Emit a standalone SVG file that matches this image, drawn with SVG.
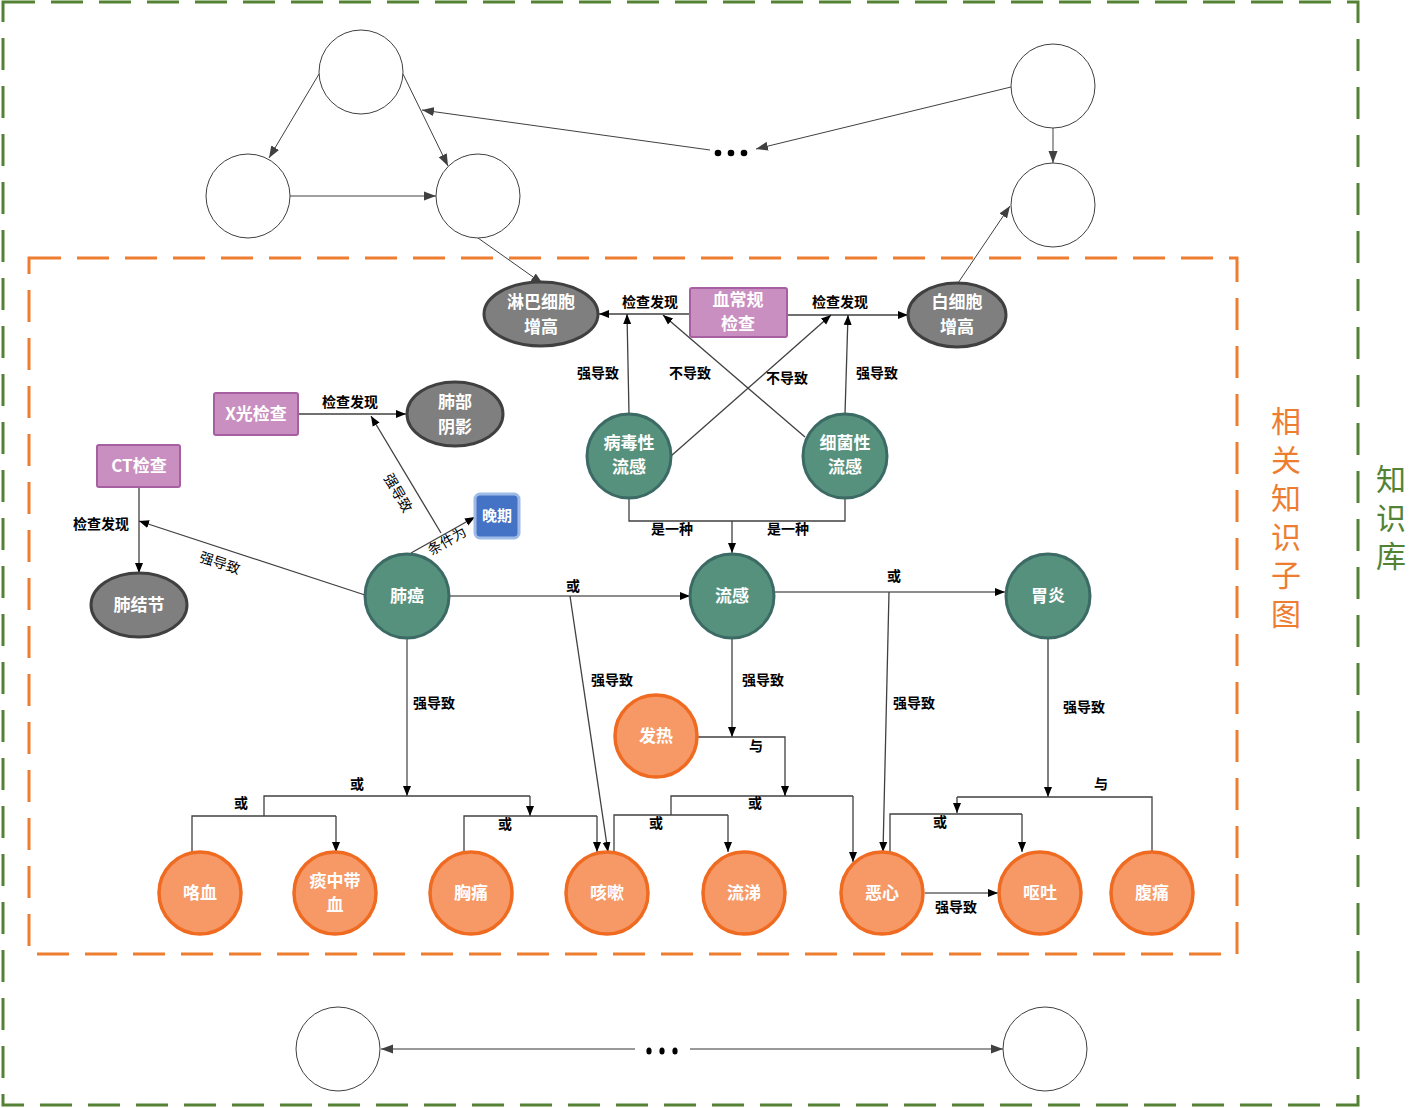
<svg xmlns="http://www.w3.org/2000/svg" width="1424" height="1108" viewBox="0 0 1424 1108">
<defs>
<style>
.ab{fill:#fff;stroke:#404040;stroke-width:1}
.al{fill:none;stroke:#404040;stroke-width:1}
.c{fill:none;stroke:#404040;stroke-width:1.3}
.gray{fill:#7f7f7f;stroke:#404040;stroke-width:3}
.teal{fill:#56917d;stroke:#3c6a64;stroke-width:3}
.or{fill:#f69966;stroke:#f06b22;stroke-width:3.5}
.pk{fill:#c98fc0;stroke:#a65fa0;stroke-width:2}
.nt{font-family:"Noto Sans CJK SC","Liberation Sans",sans-serif;font-weight:bold;font-size:17px;fill:#fff;text-anchor:middle}
.el{font-family:"Noto Sans CJK SC","Liberation Sans",sans-serif;font-weight:bold;font-size:14px;fill:#000;text-anchor:middle}
.side{font-family:"Noto Sans CJK SC",sans-serif;font-size:30px;writing-mode:vertical-rl;letter-spacing:8.5px}
</style>
<marker id="ar" markerWidth="10" markerHeight="10" refX="10" refY="5" orient="auto" markerUnits="userSpaceOnUse"><path d="M0,1 L10,5 L0,9 Z" fill="#000"/></marker>
<marker id="ag" markerWidth="12" markerHeight="10" refX="12" refY="5" orient="auto" markerUnits="userSpaceOnUse"><path d="M0,0.5 L12,5 L0,9.5 Z" fill="#404040"/></marker>
</defs>
<rect width="1424" height="1108" fill="#fff"/>

<g id="borders">
<rect x="3" y="2" width="1355" height="1103" fill="none" stroke="#548235" stroke-width="3" stroke-dasharray="32,16"/>
<rect x="29" y="258" width="1208" height="696" fill="none" stroke="#ed7d31" stroke-width="3" stroke-dasharray="32,16"/>
</g>

<g id="connectors">
<line class="al" x1="319" y1="74" x2="269" y2="158" marker-end="url(#ag)"/>
<line class="al" x1="403" y1="74" x2="448" y2="166" marker-end="url(#ag)"/>
<line class="al" x1="290" y1="196" x2="436" y2="196" marker-end="url(#ag)"/>
<line class="al" x1="710" y1="150" x2="422" y2="110" marker-end="url(#ag)"/>
<line class="al" x1="1011" y1="87" x2="756" y2="149" marker-end="url(#ag)"/>
<line class="al" x1="1053" y1="128" x2="1053" y2="163" marker-end="url(#ag)"/>
<line class="al" x1="958" y1="283" x2="1010" y2="206" marker-end="url(#ag)"/>
<line class="al" x1="478" y1="238" x2="543" y2="284" marker-end="url(#ag)"/>
<line x1="635" y1="1049" x2="381" y2="1049" stroke="#999" stroke-width="2" marker-end="url(#ag)"/>
<line x1="690" y1="1049" x2="1003" y2="1049" stroke="#999" stroke-width="2" marker-end="url(#ag)"/>

<line class="c" x1="690" y1="314" x2="599" y2="314" marker-end="url(#ar)"/>
<line class="c" x1="787" y1="315" x2="908" y2="315" marker-end="url(#ar)"/>
<line class="c" x1="629" y1="414" x2="627" y2="314" marker-end="url(#ar)"/>
<line class="c" x1="845" y1="414" x2="848" y2="315" marker-end="url(#ar)"/>
<line class="c" x1="671" y1="456" x2="831" y2="315" marker-end="url(#ar)"/>
<line class="c" x1="805" y1="437" x2="663" y2="315" marker-end="url(#ar)"/>
<polyline class="c" points="629,498 629,521 845,521 845,498"/>
<line class="c" x1="732" y1="521" x2="732" y2="553" marker-end="url(#ar)"/>

<line class="c" x1="298" y1="414" x2="406" y2="414" marker-end="url(#ar)"/>
<line class="c" x1="139" y1="487" x2="139" y2="573" marker-end="url(#ar)"/>
<line class="c" x1="365" y1="595" x2="139" y2="521" marker-end="url(#ar)"/>
<line class="c" x1="441" y1="533" x2="371" y2="416" marker-end="url(#ar)"/>
<line class="c" x1="411" y1="553" x2="475" y2="517" marker-end="url(#ar)"/>
<line x1="449" y1="596" x2="690" y2="596" stroke="#666" stroke-width="1.5" marker-end="url(#ar)"/>
<line class="c" x1="570" y1="596" x2="608" y2="852" marker-end="url(#ar)"/>
<line x1="774" y1="592" x2="1005" y2="592" stroke="#666" stroke-width="1.5" marker-end="url(#ar)"/>
<line class="c" x1="889" y1="592" x2="883" y2="852" marker-end="url(#ar)"/>

<line x1="407" y1="638" x2="407" y2="796" stroke="#666" stroke-width="1.5" marker-end="url(#ar)"/>
<polyline class="c" points="264,816 264,796 530,796"/>
<line class="c" x1="530" y1="796" x2="530" y2="816" marker-end="url(#ar)"/>
<polyline class="c" points="192,852 192,816 336,816"/>
<line class="c" x1="336" y1="816" x2="336" y2="852" marker-end="url(#ar)"/>
<polyline class="c" points="464,852 464,816 597,816"/>
<line class="c" x1="597" y1="816" x2="597" y2="852" marker-end="url(#ar)"/>

<line class="c" x1="732" y1="638" x2="732" y2="737" marker-end="url(#ar)"/>
<polyline class="c" points="698,737 785,737 785,796"/>
<line class="c" x1="785" y1="786" x2="785" y2="796" marker-end="url(#ar)"/>
<polyline class="c" points="671,815 671,796 853,796"/>
<line class="c" x1="853" y1="796" x2="853" y2="862" marker-end="url(#ar)"/>
<polyline class="c" points="614,853 614,815 728,815"/>
<line class="c" x1="728" y1="815" x2="728" y2="852" marker-end="url(#ar)"/>

<line x1="1048" y1="638" x2="1048" y2="797" stroke="#555" stroke-width="1.5" marker-end="url(#ar)"/>
<polyline class="c" points="1152,852 1152,797 957,797"/>
<line class="c" x1="957" y1="797" x2="957" y2="813" marker-end="url(#ar)"/>
<polyline class="c" points="890,853 890,814 1022,814"/>
<line class="c" x1="1022" y1="814" x2="1022" y2="852" marker-end="url(#ar)"/>
<line x1="925" y1="893" x2="998" y2="893" stroke="#666" stroke-width="1.5" marker-end="url(#ar)"/>
</g>

<g id="edge-labels">
<text class="el" x="650" y="307">检查发现</text>
<text class="el" x="840" y="307">检查发现</text>
<text class="el" x="598" y="378">强导致</text>
<text class="el" x="690" y="378">不导致</text>
<text class="el" x="787" y="383">不导致</text>
<text class="el" x="877" y="378">强导致</text>
<text class="el" x="672" y="534">是一种</text>
<text class="el" x="788" y="534">是一种</text>
<text class="el" x="350" y="407">检查发现</text>
<text class="el" x="101" y="529">检查发现</text>
<text class="el" x="220" y="568" transform="rotate(18 220 563)" style="font-weight:normal">强导致</text>
<text class="el" x="398" y="498" transform="rotate(60 398 493)" style="font-weight:normal">强导致</text>
<text class="el" x="447" y="546" transform="rotate(-30 447 541)" style="font-weight:normal">条件为</text>
<text class="el" x="573" y="591">或</text>
<text class="el" x="612" y="685">强导致</text>
<text class="el" x="894" y="581">或</text>
<text class="el" x="914" y="708">强导致</text>
<text class="el" x="434" y="708">强导致</text>
<text class="el" x="357" y="789">或</text>
<text class="el" x="241" y="808">或</text>
<text class="el" x="505" y="829">或</text>
<text class="el" x="763" y="685">强导致</text>
<text class="el" x="756" y="751">与</text>
<text class="el" x="755" y="808">或</text>
<text class="el" x="656" y="828">或</text>
<text class="el" x="1084" y="712">强导致</text>
<text class="el" x="1101" y="789">与</text>
<text class="el" x="940" y="827">或</text>
<text class="el" x="956" y="912">强导致</text>
</g>

<g id="abstract-nodes">
<circle id="a1" class="ab" cx="361" cy="72" r="42"/>
<circle id="a2" class="ab" cx="248" cy="196" r="42"/>
<circle id="a3" class="ab" cx="478" cy="196" r="42"/>
<circle id="a4" class="ab" cx="1053" cy="86" r="42"/>
<circle id="a5" class="ab" cx="1053" cy="205" r="42"/>
<ellipse id="a6" class="ab" cx="338" cy="1049" rx="42" ry="42"/>
<ellipse id="a7" class="ab" cx="1045" cy="1049" rx="42" ry="42"/>
<g id="dots1" fill="#000"><circle cx="718" cy="153" r="3.3"/><circle cx="731" cy="153" r="3.3"/><circle cx="744" cy="153" r="3.3"/></g>
<g id="dots2" fill="#000"><ellipse cx="649" cy="1051" rx="2.6" ry="3.5"/><ellipse cx="662" cy="1051" rx="2.6" ry="3.5"/><ellipse cx="675" cy="1051" rx="2.6" ry="3.5"/></g>
</g>

<g id="n-lymph"><ellipse class="gray" cx="541" cy="314" rx="57" ry="32"/><text class="nt" x="541" y="308">淋巴细胞</text><text class="nt" x="541" y="333">增高</text></g>
<g id="n-blood"><rect class="pk" x="690" y="288" width="97" height="49" rx="2"/><text class="nt" x="738" y="306">血常规</text><text class="nt" x="738" y="330">检查</text></g>
<g id="n-wbc"><ellipse class="gray" cx="957" cy="315" rx="49" ry="32"/><text class="nt" x="957" y="308">白细胞</text><text class="nt" x="957" y="333">增高</text></g>
<g id="n-viral"><circle class="teal" cx="629" cy="456" r="42"/><text class="nt" x="629" y="449">病毒性</text><text class="nt" x="629" y="473">流感</text></g>
<g id="n-bact"><circle class="teal" cx="845" cy="456" r="42"/><text class="nt" x="845" y="449">细菌性</text><text class="nt" x="845" y="473">流感</text></g>
<g id="n-xray"><rect class="pk" x="214" y="393" width="84" height="42" rx="2"/><text class="nt" x="256" y="420">X光检查</text></g>
<g id="n-shadow"><ellipse class="gray" cx="455" cy="414" rx="48" ry="32"/><text class="nt" x="455" y="408">肺部</text><text class="nt" x="455" y="433">阴影</text></g>
<g id="n-ct"><rect class="pk" x="97" y="445" width="83" height="42" rx="2"/><text class="nt" x="139" y="472">CT检查</text></g>
<g id="n-nodule"><ellipse class="gray" cx="139" cy="605" rx="48" ry="32"/><text class="nt" x="139" y="611">肺结节</text></g>
<g id="n-late"><rect x="475" y="494" width="44" height="44" rx="5" fill="#4472c4" stroke="#9dbbe6" stroke-width="3"/><text class="nt" x="497" y="521" style="font-size:15px">晚期</text></g>
<g id="n-lungca"><circle class="teal" cx="407" cy="596" r="42"/><text class="nt" x="407" y="602">肺癌</text></g>
<g id="n-flu"><circle class="teal" cx="732" cy="596" r="42"/><text class="nt" x="732" y="602">流感</text></g>
<g id="n-gastr"><circle class="teal" cx="1048" cy="596" r="42"/><text class="nt" x="1048" y="602">胃炎</text></g>
<g id="n-fever"><circle class="or" cx="656" cy="736" r="41"/><text class="nt" x="656" y="742">发热</text></g>
<g id="n-hemo"><circle class="or" cx="200" cy="893" r="41"/><text class="nt" x="200" y="899">咯血</text></g>
<g id="n-sputum"><circle class="or" cx="335" cy="893" r="41"/><text class="nt" x="335" y="887">痰中带</text><text class="nt" x="335" y="911">血</text></g>
<g id="n-chest"><circle class="or" cx="471" cy="893" r="41"/><text class="nt" x="471" y="899">胸痛</text></g>
<g id="n-cough"><circle class="or" cx="607" cy="893" r="41"/><text class="nt" x="607" y="899">咳嗽</text></g>
<g id="n-runny"><circle class="or" cx="744" cy="893" r="41"/><text class="nt" x="744" y="899">流涕</text></g>
<g id="n-nausea"><circle class="or" cx="882" cy="893" r="41"/><text class="nt" x="882" y="899">恶心</text></g>
<g id="n-vomit"><circle class="or" cx="1040" cy="893" r="41"/><text class="nt" x="1040" y="899">呕吐</text></g>
<g id="n-abd"><circle class="or" cx="1152" cy="893" r="41"/><text class="nt" x="1152" y="899">腹痛</text></g>

<g id="side-labels">
<text class="side" x="1286" y="406" fill="#ed7d31">相关知识子图</text>
<text class="side" x="1391" y="464" fill="#548235">知识库</text>
</g>
</svg>
